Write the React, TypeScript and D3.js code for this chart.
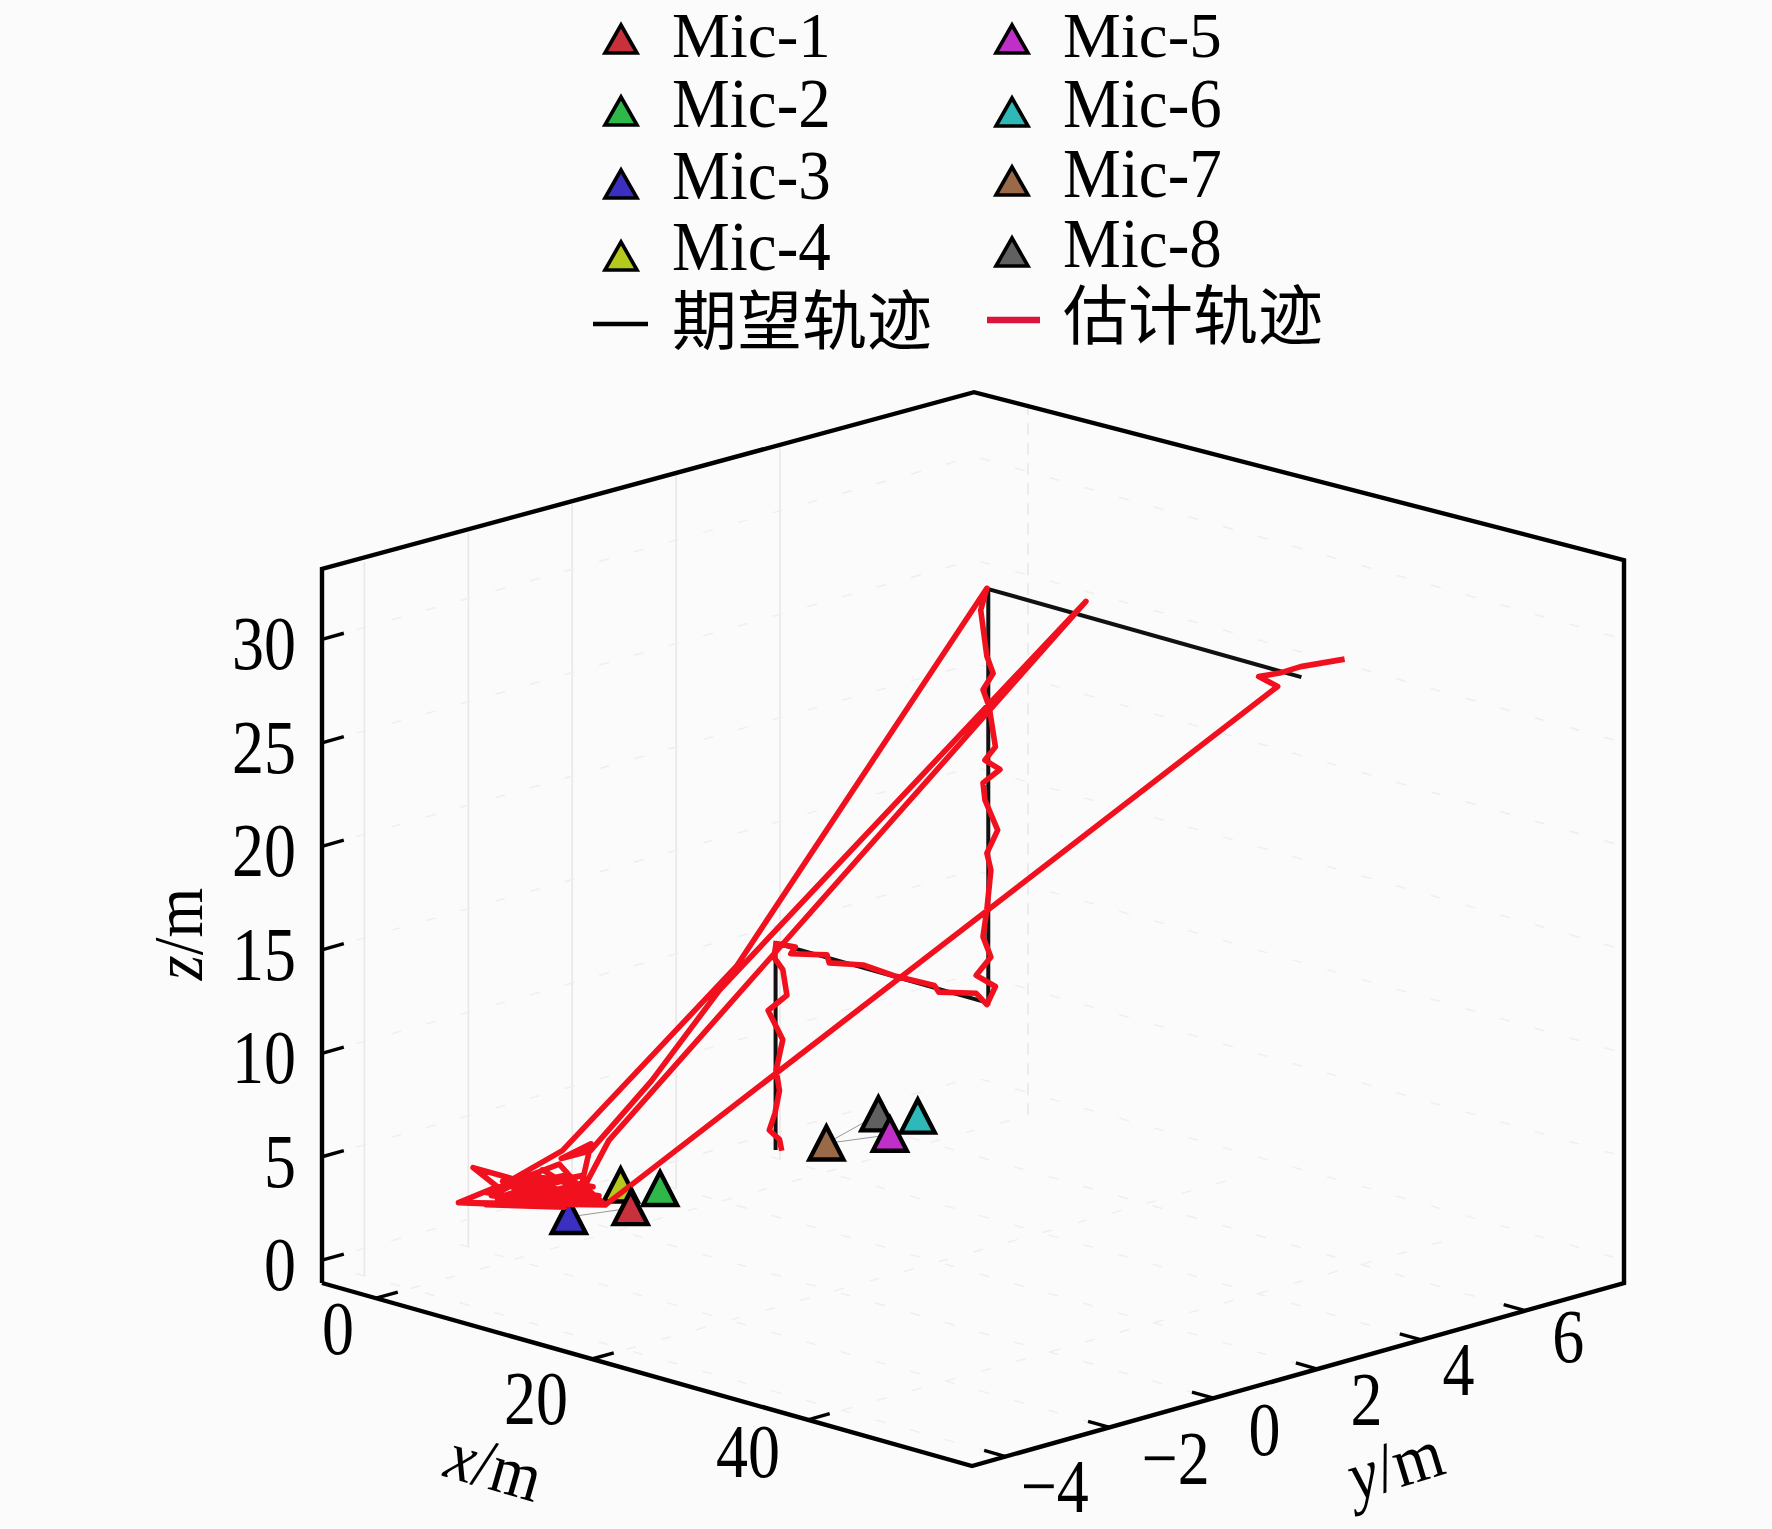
import React from "react";
import * as d3 from "d3";

type P3 = [number, number, number];

const micNames = ["Mic-1", "Mic-2", "Mic-3", "Mic-4", "Mic-5", "Mic-6", "Mic-7", "Mic-8"];
const micColors = ["#c8303c", "#2fb84a", "#3a2fc0", "#b5c81e", "#c030c8", "#2fb8b8", "#9a6a48", "#606060"];
const micX = [4.1, 2.3, 2.7, -0.1, 4.0, 2.3, 2.5, 0.1];
const micY = [-0.6, 0.34, -1.5, 0.08, 4.41, 5.3, 3.5, 5.0];
const micZ = [1, 1, 1, 1, 1, 1, 1, 1];
const micLinks: [number, number][] = [[2, 0], [6, 4], [6, 7]];

const xTicks = [0, 20, 40];
const yTicks = [-4, -2, 0, 2, 4, 6];
const zTicks = [0, 5, 10, 15, 20, 25, 30];

const desired: P3[] = [
  [0.2, 3, 0.7], [0.2, 3, 10.7], [19.9, 3, 10.7], [19.9, 3, 30.7], [48.9, 3, 30.7],
];

const estimated: P3[] = [
  [0.77, 3, 0.75], [0.56, 3, 1.27], [-0.38, 3, 1.57], [0.14, 3, 2.46], [0.56, 3, 3.62], [0.25, 3, 4.56],
  [0.87, 3, 6.13], [-0.49, 3, 7.34], [1.25, 3, 8.33], [0.87, 3, 9.51], [0.04, 3, 9.99], [0.25, 3, 10.68],
  [2.03, 3, 10.78], [1.61, 3, 10.39], [4.96, 3, 10.83], [5.17, 3, 10.47], [8.31, 3, 10.83], [11.35, 3, 10.73],
  [14.91, 3, 10.81], [15.32, 3, 10.55], [18.78, 3, 11.0], [19.77, 3, 10.6], [20.56, 3, 11.59], [18.78, 3, 11.87],
  [20.14, 3, 12.95], [19.41, 3, 13.83], [19.77, 3, 15.19], [20.14, 3, 17.15], [19.77, 3, 17.92], [20.77, 3, 19.18],
  [19.59, 3, 20.46], [19.41, 3, 21.26], [20.98, 3, 22.14], [19.59, 3, 22.39], [20.56, 3, 23.17], [19.97, 3, 25.05],
  [19.41, 3, 25.76], [20.35, 3, 26.69], [19.77, 3, 27.43], [19.2, 3, 29.58], [19.77, 3, 30.72],
  [-3.42, 3, 9.05],
  [-8.53, 0.71, 1], [-6.17, -0.73, 1], [-9.87, -0.73, 1], [-5.6, -1.15, 1], [-4.77, -2.07, 1], [2.39, -0.73, 1],
  [-4.93, -0.86, 1], [-4.33, -0.12, 1], [-3.74, -1.54, 1], [-1.16, -0.23, 1], [-5.89, -0.44, 1], [-4.37, -1.52, 1],
  [1.71, -0.72, 1], [-6.3, -0.14, 1], [-2.47, -1.59, 1], [0.07, -0.59, 1], [-6.46, 0.22, 1], [-5.19, -1.46, 1],
  [1.04, -1.01, 1],
  [-6.27, -0.91, 1], [0.59, -0.48, 1], [-4.45, -1.07, 1], [-3.54, 0.05, 1], [-3.59, -1.35, 1], [1.45, -0.78, 1],
  [-5.22, -0.69, 1], [-1.27, -0.64, 1], [-3.14, -1.88, 1], [0.88, -1.2, 1], [-4.77, -2.07, 1], [2.39, -0.73, 1],
  [-2.54, -1.13, 1], [-2.24, -0.22, 1], [-8.34, 1.22, 1], [-7.28, 0.43, 1], [-7.22, 0.98, 1],
  [-11.27, 3, 2.37], [-4.99, 3, 7.67], [28.94, 3, 31.43],
  [-8.07, 1.51, 1], [-1.58, -0.31, 1], [2.39, -0.73, 1],
  [46.7, 3, 29.93], [44.94, 3, 30.15], [46.88, 3, 30.6], [48.83, 3, 31.2], [52.9, 3, 32.16],
];

const xDomain = [-5, 55.2];
const yDomain = [-4.65, 7.9];
const zDomain = [-1.1, 33.4];

const boxPath: P3[] = [
  [xDomain[0], yDomain[0], zDomain[0]],
  [xDomain[1], yDomain[0], zDomain[0]],
  [xDomain[1], yDomain[1], zDomain[0]],
  [xDomain[1], yDomain[1], zDomain[1] + 0.43],
  [xDomain[0], yDomain[1], zDomain[1] - 0.3],
  [xDomain[0], yDomain[0], zDomain[1]],
  [xDomain[0], yDomain[0], zDomain[0]],
];

const uScale = d3.scaleLinear().domain(xDomain).range([0, 650]);
const vScale = d3.scaleLinear().domain(yDomain).range([0, 652]);
const wScale = d3.scaleLinear().domain(zDomain).range([0, 714]);

const project = ([x, y, z]: P3): [number, number] => {
  const u = uScale(x);
  const v = vScale(y);
  return [322 + u + v, 1283 + (u * 183) / 650 - (v * 183) / 652 - wScale(z)];
};

const line3 = d3.line<P3>().x((d) => project(d)[0]).y((d) => project(d)[1]);

const FONT = "'Liberation Serif', serif";
const CJK = "'Noto Sans CJK SC', sans-serif";

const xOffsets = [[-38, 30], [-56, 39], [-60, 31]];
const yOffsets = [[49, 29], [66, 31], [51, 31], [49, 30], [37, 29], [43, 25]];

const Tri = ({ cx, base, w, h, fill, sw }: { cx: number; base: number; w: number; h: number; fill: string; sw: number }) => (
  <path
    d={`M${cx - w / 2},${base}L${cx},${base - h}L${cx + w / 2},${base}Z`}
    fill={fill}
    stroke="#000"
    strokeWidth={sw}
    strokeLinejoin="miter"
  />
);

const Label = ({ x, y, sy = 1.15, rot = 0, size = 64, anchor = "middle", font = FONT, children }: any) => (
  <text
    transform={`translate(${x},${y}) rotate(${rot}) scale(1,${sy})`}
    fontFamily={font}
    fontSize={size}
    textAnchor={anchor}
    fill="#000"
  >
    {children}
  </text>
);

const legendLeftBase = [53, 125, 198, 270];
const legendRightBase = [53, 126, 195, 266];
const textLeftBase = [57, 127, 199, 270];
const textRightBase = [57, 127, 197, 267];

export default function App() {
  const gridStroke = "#eeeeee";
  const grid: React.ReactNode[] = [];
  yTicks.forEach((y) => {
    if (y < 6) {
      grid.push(<path key={`gv${y}`} d={line3([[xDomain[0] + 0.8, y, zDomain[0]], [xDomain[0] + 0.8, y, zDomain[1]]])!} stroke="#e8e8e8" strokeWidth={1.6} fill="none" />);
    }
    grid.push(<path key={`gf${y}`} d={line3([[xDomain[0], y, zDomain[0]], [xDomain[1], y, zDomain[0]]])!} stroke={gridStroke} strokeWidth={1.4} strokeDasharray="10 26" fill="none" />);
  });
  xTicks.forEach((x) => {
    if (x === 0) {
      grid.push(<path key={`hv${x}`} d={line3([[x, yDomain[1], zDomain[0]], [x, yDomain[1], zDomain[1]]])!} stroke="#e8e8e8" strokeWidth={1.6} strokeDasharray="12 8" fill="none" />);
    }
    grid.push(<path key={`hf${x}`} d={line3([[x, yDomain[0], zDomain[0]], [x, yDomain[1], zDomain[0]]])!} stroke={gridStroke} strokeWidth={1.4} strokeDasharray="10 26" fill="none" />);
  });
  zTicks.forEach((z) => {
    grid.push(<path key={`zl${z}`} d={line3([[xDomain[0], yDomain[0], z], [xDomain[0], yDomain[1], z], [xDomain[1], yDomain[1], z]])!} stroke={gridStroke} strokeWidth={1.4} strokeDasharray="10 26" fill="none" />);
  });

  const micAt = (i: number) => project([micX[i], micY[i], micZ[i]]);
  const micMark = (i: number) => {
    const [cx, cy] = micAt(i);
    return <Tri key={micNames[i]} cx={cx} base={cy + 16} w={34} h={33} fill={micColors[i]} sw={4.4} />;
  };

  return (
    <svg
      width={1772}
      height={1529}
      viewBox="0 0 1772 1529"
      style={{ position: "fixed", left: 0, top: 0, display: "block" }}
    >
      <rect width={1772} height={1529} fill="#fbfbfb" />
      {grid}

      <path d={line3(boxPath)!} fill="none" stroke="#000" strokeWidth={4.4} strokeLinejoin="miter" />

      {zTicks.map((z) => {
        const [a, b] = project([xDomain[0], yDomain[0], z]);
        const [c, d] = project([xDomain[0], yDomain[0] + 0.42, z]);
        return (
          <g key={`z${z}`}>
            <line x1={a} y1={b} x2={c} y2={d} stroke="#000" strokeWidth={3.4} />
            <Label x={296} y={b + 30} sy={1.2}>
              <tspan textAnchor="end">{z}</tspan>
            </Label>
          </g>
        );
      })}
      {xTicks.map((x, i) => {
        const [a, b] = project([x, yDomain[0], zDomain[0]]);
        const [c, d] = project([x, yDomain[0] + 0.42, zDomain[0]]);
        return (
          <g key={`x${x}`}>
            <line x1={a} y1={b} x2={c} y2={d} stroke="#000" strokeWidth={3.4} />
            <Label x={a + xOffsets[i][0]} y={b + xOffsets[i][1] + 26} sy={1.2}>{x}</Label>
          </g>
        );
      })}
      {yTicks.map((y, i) => {
        const [a, b] = project([xDomain[1], y, zDomain[0]]);
        const [c, d] = project([xDomain[1] - 2, y, zDomain[0]]);
        return (
          <g key={`y${y}`}>
            <line x1={a} y1={b} x2={c} y2={d} stroke="#000" strokeWidth={3.4} />
            <Label x={a + yOffsets[i][0]} y={b + yOffsets[i][1] + 26} sy={1.2}>{y < 0 ? `\u2212${-y}` : y}</Label>
          </g>
        );
      })}

      <Label x={488} y={1489} rot={16} size={64} sy={1.1}>
        <tspan fontStyle="italic">x</tspan>/m
      </Label>
      <Label x={1402} y={1487} rot={-17} size={64} sy={1.1}>
        <tspan fontStyle="italic">y</tspan>/m
      </Label>
      <Label x={202} y={934} rot={-90} size={64} sy={1.1}>
        <tspan fontStyle="italic">z</tspan>/m
      </Label>

      {micLinks.map(([a, b]) => {
        const [x1, y1] = micAt(a);
        const [x2, y2] = micAt(b);
        return <line key={`l${a}${b}`} x1={x1} y1={y1} x2={x2} y2={y2} stroke="#999" strokeWidth={1} />;
      })}

      {[7, 5, 2, 3, 1].map(micMark)}
      <path d={line3(desired)!} fill="none" stroke="#111" strokeWidth={4} />
      <path d={line3(estimated)!} fill="none" stroke="#f0101e" strokeWidth={5.6} strokeLinejoin="round" />
      {[6, 4, 0].map(micMark)}

      {micNames.map((name, i) => {
        const left = i < 4;
        const row = i % 4;
        const cx = left ? 621 : 1012;
        const base = left ? legendLeftBase[row] : legendRightBase[row];
        const tb = left ? textLeftBase[row] : textRightBase[row];
        return (
          <g key={`leg${name}`}>
            <Tri cx={cx} base={base} w={32} h={28} fill={micColors[i]} sw={3.6} />
            <Label x={left ? 672 : 1063} y={tb} anchor="start" size={65} sy={row === 0 ? 0.98 : 1.08}>{name}</Label>
          </g>
        );
      })}
      <line x1={593} y1={324} x2={648} y2={324} stroke="#000" strokeWidth={4.5} />
      <line x1={987} y1={320} x2={1040} y2={320} stroke="#dc143c" strokeWidth={6.5} />
      <Label x={672} y={344} anchor="start" size={65} sy={1} font={CJK}>期望轨迹</Label>
      <Label x={1063} y={339} anchor="start" size={65} sy={1} font={CJK}>估计轨迹</Label>
    </svg>
  );
}
